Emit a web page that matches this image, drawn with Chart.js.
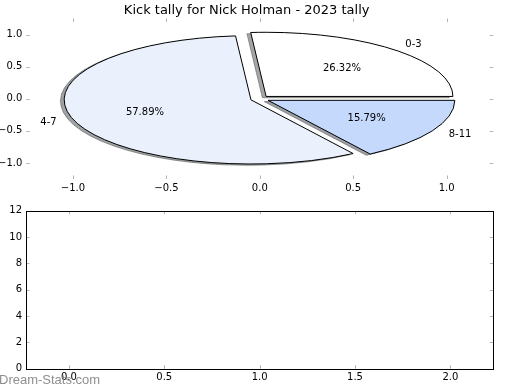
<!DOCTYPE html>
<html>
<head>
<meta charset="utf-8">
<script src="https://cdn.jsdelivr.net/npm/chart.js@4/dist/chart.umd.min.js"></script>
<style>
    body { margin: 0; background: #fff; }
    #wrap { position: relative; width: 520px; height: 390px; }
    canvas { position: absolute; left: 0; }
    #Pie { top: 0; }
    #Bars { top: 200px; }
</style>
</head>
<body>
<div id="wrap">
    <canvas id="Pie" width="520" height="200"></canvas>
    <canvas id="Bars" width="520" height="190"></canvas>
</div>
<script>
const chartTitle = 'Kick tally for Nick Holman - 2023 tally';
const sliceLabels = ['0-3', '4-7', '8-11'];
const sliceCounts = [5, 11, 3];
const pieTicks = [-1.0, -0.5, 0.0, 0.5, 1.0];
const barXTicks = [0.0, 0.5, 1.0, 1.5, 2.0];
const barYTicks = [0, 2, 4, 6, 8, 10, 12];
const watermark = 'Dream-Stats.com';

Chart.defaults.font.family = '"DejaVu Sans", sans-serif';
Chart.defaults.font.size = 10;
Chart.defaults.color = '#000';

function fmt1(v) {
    return (v < 0 ? '\u2212' : '') + Math.abs(v).toFixed(1);
}

function shade(hex) {
    var r = parseInt(hex.slice(1, 3), 16), g = parseInt(hex.slice(3, 5), 16), b = parseInt(hex.slice(5, 7), 16);
    return 'rgba(' + Math.round(r * 0.3) + ',' + Math.round(g * 0.3) + ',' + Math.round(b * 0.3) + ',0.5)';
}

// gray inward tick marks on every side, plus optional black box
const framePlugin = {
    id: 'frame',
    afterDraw(chart, args, opts) {
        const { ctx, chartArea: a, scales: { x, y } } = chart;
        const len = 3.5;
        ctx.save();
        ctx.strokeStyle = '#b3b3b3';
        ctx.lineWidth = 1;
        ctx.beginPath();
        x.ticks.forEach(t => {
            const px = Math.round(x.getPixelForValue(t.value)) + 0.5;
            ctx.moveTo(px, a.top); ctx.lineTo(px, a.top + len);
            ctx.moveTo(px, a.bottom); ctx.lineTo(px, a.bottom - len);
        });
        y.ticks.forEach(t => {
            const py = Math.round(y.getPixelForValue(t.value)) + 0.5;
            ctx.moveTo(a.left, py); ctx.lineTo(a.left + len, py);
            ctx.moveTo(a.right, py); ctx.lineTo(a.right - len, py);
        });
        ctx.stroke();
        if (opts.box) {
            ctx.strokeStyle = '#000';
            ctx.strokeRect(Math.round(a.left) + 0.5, Math.round(a.top) + 0.5,
                Math.round(a.right) - Math.round(a.left), Math.round(a.bottom) - Math.round(a.top));
        }
        if (opts.mark) {
            ctx.fillStyle = '#8f8f8f';
            ctx.font = '13px "Liberation Sans", sans-serif';
            ctx.textAlign = 'left';
            ctx.textBaseline = 'middle';
            ctx.fillText(opts.mark, -1, 180);
        }
        ctx.restore();
    }
};

// exploded pie with shadow, drawn on the x/y scales (not equal aspect)
const piePlugin = {
    id: 'pieSlices',
    afterDatasetsDraw(chart, args, opts) {
        if (!opts.colors) return;
        const { ctx, scales: { x, y } } = chart;
        const rad = Math.PI / 180;
        const total = sliceCounts.reduce((s, v) => s + v, 0);
        const rx = x.getPixelForValue(1) - x.getPixelForValue(0);
        const ry = y.getPixelForValue(0) - y.getPixelForValue(1);
        let start = 0;
        const wedges = sliceCounts.map((v, i) => {
            const t1 = start, t2 = start + 360 * v / total;
            start = t2;
            const mid = (t1 + t2) / 2 * rad;
            return { t1: t1, t2: t2, cos: Math.cos(mid), sin: Math.sin(mid), frac: v / total, color: opts.colors[i], label: sliceLabels[i] };
        });

        function wedgePath(w, dx, dy) {
            const cx = x.getPixelForValue(opts.explode * w.cos + dx);
            const cy = y.getPixelForValue(opts.explode * w.sin + dy);
            ctx.beginPath();
            ctx.moveTo(cx, cy);
            ctx.ellipse(cx, cy, rx, ry, 0, -w.t1 * rad, -w.t2 * rad, true);
            ctx.closePath();
        }

        ctx.save();
        ctx.lineWidth = 1;
        wedges.forEach(w => {
            wedgePath(w, -0.02, -0.02);
            ctx.fillStyle = shade(w.color);
            ctx.strokeStyle = shade(w.color);
            ctx.fill();
            ctx.stroke();
        });
        wedges.forEach(w => {
            wedgePath(w, 0, 0);
            ctx.fillStyle = w.color;
            ctx.strokeStyle = '#000';
            ctx.fill();
            ctx.stroke();
        });

        ctx.fillStyle = '#000';
        ctx.font = '10px "DejaVu Sans", sans-serif';
        ctx.textBaseline = 'middle';
        wedges.forEach(w => {
            const lx = (opts.explode + 1.1) * w.cos, ly = (opts.explode + 1.1) * w.sin;
            ctx.textAlign = lx > 0 ? 'left' : 'right';
            ctx.fillText(w.label, x.getPixelForValue(lx), y.getPixelForValue(ly));
            ctx.textAlign = 'center';
            ctx.fillText((w.frac * 100).toFixed(2) + '%',
                x.getPixelForValue((opts.explode + 0.6) * w.cos),
                y.getPixelForValue((opts.explode + 0.6) * w.sin));
        });
        ctx.restore();
    }
};

function axis(min, max, tickVals, size, isX, fmt) {
    return {
        type: 'linear',
        min: min,
        max: max,
        afterBuildTicks: s => { s.ticks = tickVals.map(v => ({ value: v })); },
        afterFit: s => { if (isX) s.height = size; else s.width = size; },
        grid: { display: false, drawTicks: false },
        border: { display: false },
        ticks: { padding: isX ? 3 : 4, autoSkip: false, maxRotation: 0, callback: fmt }
    };
}

new Chart(document.getElementById('Pie'), {
    type: 'scatter',
    data: { datasets: [{ data: [] }] },
    options: {
        responsive: false,
        animation: false,
        layout: { padding: { left: 0, right: 26.7, top: 0, bottom: 0 } },
        plugins: {
            legend: { display: false },
            tooltip: { enabled: false },
            title: {
                display: true,
                text: chartTitle,
                color: '#000',
                font: { size: 13, weight: 'normal' },
                padding: { top: 2.4, bottom: 0.6 }
            },
            pieSlices: { explode: 0.05, colors: ['#ffffff', '#eaf1fd', '#c5d9fc'] },
            frame: { box: false }
        },
        scales: {
            x: axis(-1.25, 1.25, pieTicks, 21, true, fmt1),
            y: axis(-1.25, 1.25, pieTicks, 26.3, false, fmt1)
        }
    },
    plugins: [piePlugin, framePlugin]
});

new Chart(document.getElementById('Bars'), {
    type: 'scatter',
    data: { datasets: [{ data: [] }] },
    options: {
        responsive: false,
        animation: false,
        layout: { padding: { left: 0, right: 26.7, top: 10.7, bottom: 0 } },
        plugins: {
            legend: { display: false },
            tooltip: { enabled: false },
            frame: { box: true, mark: watermark }
        },
        scales: {
            x: axis(-0.225, 2.225, barXTicks, 21.3, true, fmt1),
            y: axis(0, 12, barYTicks, 26, false, v => String(v))
        }
    },
    plugins: [framePlugin]
});
</script>
</body>
</html>
